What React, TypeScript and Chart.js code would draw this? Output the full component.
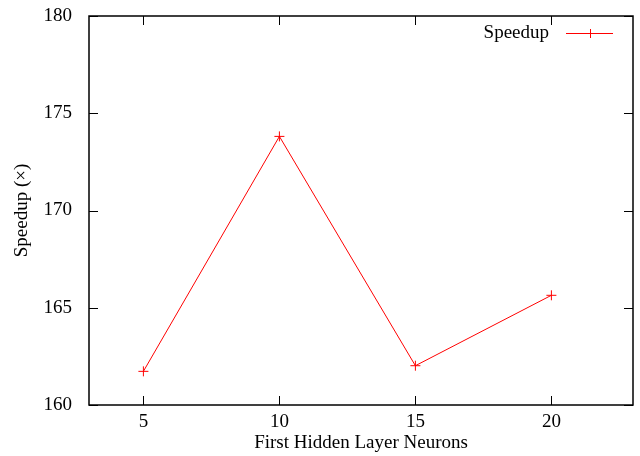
import { useEffect, useRef } from 'react';
import { Chart, registerables } from 'chart.js';

Chart.register(...registerables);

const neurons = [5, 10, 15, 20];
const speedup = [161.73, 173.81, 162.02, 165.64];
const xTickValues = [5, 10, 15, 20];
const yTickValues = [160, 165, 170, 175, 180];
const seriesLabel = 'Speedup';
const xTitle = 'First Hidden Layer Neurons';
const yTitle = 'Speedup (\u00d7)';

const FONT = '"Liberation Serif", "Times New Roman", serif';
const FS = 19;
const RED = '#ff0000';

const framePlugin = {
  id: 'gnuplotFrame',
  afterDatasetsDraw(chart: any) {
    const { ctx, chartArea: a, scales } = chart;
    const x = scales.x;
    const y = scales.y;
    const tl = 9;
    ctx.save();
    ctx.strokeStyle = '#000';
    ctx.lineWidth = 1;
    ctx.beginPath();
    for (const v of xTickValues) {
      const px = Math.round(x.getPixelForValue(v)) + 0.5;
      ctx.moveTo(px, a.bottom);
      ctx.lineTo(px, a.bottom - tl);
      ctx.moveTo(px, a.top);
      ctx.lineTo(px, a.top + tl);
    }
    for (const v of yTickValues) {
      const py = Math.round(y.getPixelForValue(v)) + 0.5;
      ctx.moveTo(a.left, py);
      ctx.lineTo(a.left + tl, py);
      ctx.moveTo(a.right, py);
      ctx.lineTo(a.right - tl, py);
    }
    ctx.stroke();
    ctx.lineWidth = 1.5;
    ctx.strokeRect(a.left, a.top, a.right - a.left, a.bottom - a.top);
    ctx.restore();

    // legend
    ctx.save();
    const ly = Math.round(a.top + 17);
    const lx2 = Math.round(a.right - 20);
    const lx1 = lx2 - 47;
    ctx.font = FS + 'px ' + FONT;
    ctx.fillStyle = '#000';
    ctx.textAlign = 'right';
    ctx.textBaseline = 'middle';
    ctx.fillText(seriesLabel, lx1 - 17, ly);
    ctx.fillStyle = RED;
    ctx.fillRect(lx1, ly, lx2 - lx1, 1);
    const mx = Math.round((lx1 + lx2) / 2);
    ctx.fillRect(mx, ly - 4, 1, 9);
    ctx.restore();
  },
};

export default function App() {
  const ref = useRef<HTMLCanvasElement>(null);
  useEffect(() => {
    document.body.style.margin = '0';
    const canvas = ref.current;
    if (!canvas) return;
    const chart = new Chart(canvas, {
      type: 'line',
      data: {
        datasets: [
          {
            label: seriesLabel,
            data: neurons.map((n, i) => ({ x: n, y: speedup[i] })),
            borderColor: RED,
            backgroundColor: RED,
            borderWidth: 1,
            pointStyle: 'cross',
            pointRadius: 5,
            pointBorderWidth: 1,
            pointBorderColor: RED,
            tension: 0,
          },
        ],
      },
      options: {
        animation: false,
        responsive: false,
        devicePixelRatio: 1,
        layout: { padding: { left: 0, top: 16, right: 7, bottom: 0 } },
        plugins: { legend: { display: false }, tooltip: { enabled: false } },
        scales: {
          x: {
            type: 'linear',
            min: 3,
            max: 23,
            grid: { display: false, drawTicks: false },
            border: { display: false },
            afterBuildTicks: (s: any) => {
              s.ticks = xTickValues.map((v) => ({ value: v }));
            },
            afterFit: (s: any) => {
              s.height = 51;
              s.paddingLeft = 0;
              s.paddingRight = 0;
            },
            ticks: {
              autoSkip: false,
              maxRotation: 0,
              padding: 6,
              color: '#000',
              font: { family: FONT, size: FS },
            },
            title: {
              display: true,
              text: xTitle,
              color: '#000',
              font: { family: FONT, size: FS },
              padding: { top: 0, bottom: 2 },
            },
          },
          y: {
            type: 'linear',
            min: 160,
            max: 180,
            grid: { display: false, drawTicks: false },
            border: { display: false },
            afterBuildTicks: (s: any) => {
              s.ticks = yTickValues.map((v) => ({ value: v }));
            },
            afterFit: (s: any) => {
              s.width = 89;
              s.paddingTop = 0;
              s.paddingBottom = 0;
            },
            ticks: {
              padding: 17,
              color: '#000',
              font: { family: FONT, size: FS },
            },
            title: {
              display: true,
              text: yTitle,
              color: '#000',
              font: { family: FONT, size: FS },
              padding: { top: 11, bottom: 0 },
            },
          },
        },
      },
      plugins: [framePlugin],
    });
    return () => chart.destroy();
  }, []);
  return <canvas ref={ref} width={640} height={456} style={{ display: 'block' }} />;
}
